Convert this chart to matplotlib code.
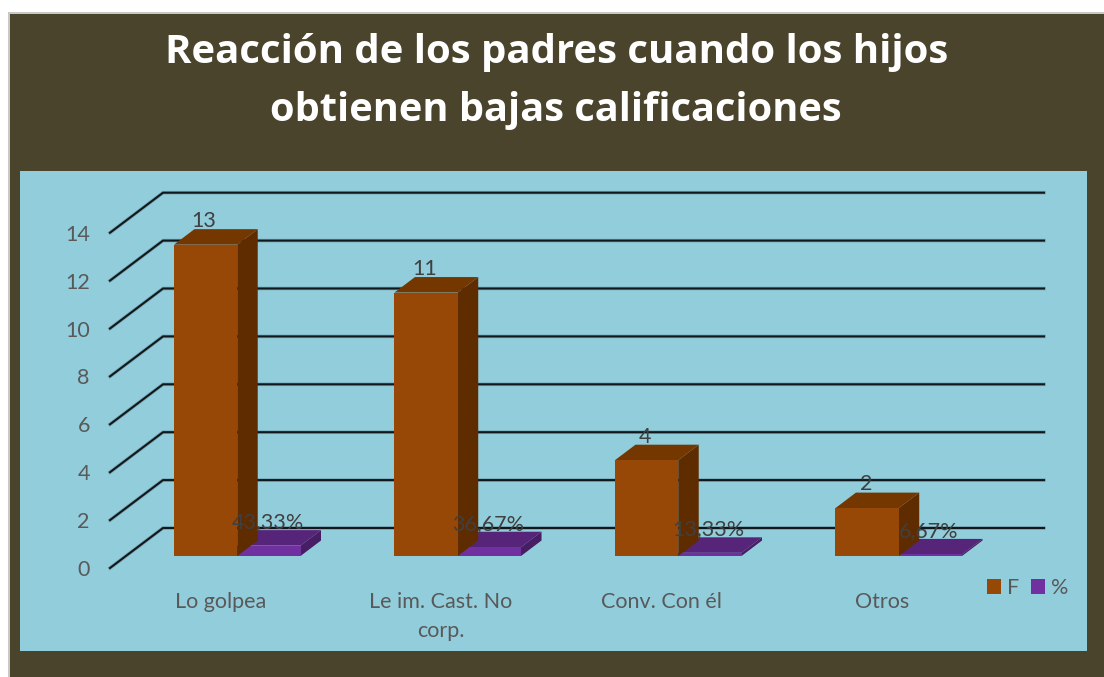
#!/usr/bin/env python3

import matplotlib
matplotlib.use("Agg")
import matplotlib.pyplot as plt
from matplotlib.patches import Polygon, Rectangle, Patch

# -------------------------------------------------------------------------
# Data
# -------------------------------------------------------------------------

categories = ["Lo golpea", "Le im. Cast. No\ncorp.", "Conv. Con él", "Otros"]
freq = [13, 11, 4, 2]
pct = [43.33, 36.67, 13.33, 6.67]
y_ticks = [0, 2, 4, 6, 8, 10, 12, 14]

BG = "#4a442d"
PANEL = "#92cddc"
TEXT = "#595959"
LABEL = "#404040"
F_FRONT, F_TOP, F_SIDE = "#974806", "#743700", "#5f2c00"
P_FRONT, P_TOP, P_SIDE = "#7030a0", "#562478", "#471d63"
FS = 15.5

# pixel layout of the reference
W, H = 1104, 677
CAT_PX = 220.5
UNIT_PX = 23.95
X0_PX, Y0_PX = 110, 568
WALL_DX, WALL_DY = 53 / CAT_PX, 40 / UNIT_PX
BAR_DX, BAR_DY = 20.5 / CAT_PX, 15.5 / UNIT_PX
FLOOR_Y = 12 / UNIT_PX
BAR_LEFT = 0.29
BAR_W = 0.287

fig = plt.figure(figsize=(W / 100, H / 100), dpi=100, facecolor="white")
fig.add_artist(Rectangle((8 / W, 0), 1 - 8 / W, 1 - 12 / H, transform=fig.transFigure,
                         fc="#c8c8c8", ec="none", zorder=-3))
fig.add_artist(Rectangle((9.5 / W, 0), 1 - 9.5 / W, 1 - 13.5 / H, transform=fig.transFigure,
                         fc=BG, ec="none", zorder=-2))
fig.add_artist(Rectangle((20 / W, (H - 651) / H), 1067 / W, 480 / H, transform=fig.transFigure,
                         fc=PANEL, ec="none", zorder=-1))

fig.text(556.5 / W, 1 - 53 / H, "Reacción de los padres cuando los hijos", color="white",
         fontsize=28.9, fontweight="bold", family="Open Sans", ha="center", va="center")
fig.text(556 / W, 1 - 110 / H, "obtienen bajas calificaciones", color="white",
         fontsize=28.6, fontweight="bold", family="Open Sans", ha="center", va="center")

ax = fig.add_axes([X0_PX / W, (H - Y0_PX) / H, 934 / W, 376 / H])
ax.patch.set_alpha(0)
ax.set_xlim(0, 934 / CAT_PX)
ax.set_ylim(0, 376 / UNIT_PX)
for s in ax.spines.values():
    s.set_visible(False)


def draw_bar(x, v, front, top, side, z):
    y0 = FLOOR_Y
    y1 = FLOOR_Y + v
    ax.add_patch(Polygon([(x + BAR_W, y0), (x + BAR_W + BAR_DX, y0 + BAR_DY),
                          (x + BAR_W + BAR_DX, y1 + BAR_DY), (x + BAR_W, y1)],
                         fc=side, ec="none", zorder=z))
    ax.add_patch(Polygon([(x, y1), (x + BAR_W, y1),
                          (x + BAR_W + BAR_DX, y1 + BAR_DY), (x + BAR_DX, y1 + BAR_DY)],
                         fc=top, ec="none", zorder=z))
    ax.add_patch(Rectangle((x, y0), BAR_W, v, fc=front, ec="none", zorder=z))


# walls
for t in y_ticks:
    ax.plot([0, WALL_DX, 934 / CAT_PX], [t, t + WALL_DY, t + WALL_DY], color="#5f7f8a",
            lw=2.6, alpha=0.5, solid_joinstyle="miter", clip_on=False, zorder=1)
    ax.plot([0, WALL_DX, 934 / CAT_PX], [t, t + WALL_DY, t + WALL_DY], color="#10181c",
            lw=1.5, solid_joinstyle="miter", clip_on=False, zorder=1.1)

# bars and labels
for i in range(len(categories)):
    x_f = i + BAR_LEFT
    x_p = x_f + BAR_W
    v_p = pct[i] / 100
    draw_bar(x_p, v_p, P_FRONT, P_TOP, P_SIDE, 2)
    draw_bar(x_f, freq[i], F_FRONT, F_TOP, F_SIDE, 3)

    ax.annotate(str(freq[i]), (x_f + BAR_W / 2, FLOOR_Y + freq[i]), xytext=(-1, 17),
                textcoords="offset points", ha="center", va="center", fontsize=FS,
                color=LABEL, family="Lato", zorder=5)
    ax.annotate(f"{pct[i]:.2f}%".replace(".", ","), (x_p + BAR_W / 2, FLOOR_Y + v_p),
                xytext=(-1, 17), textcoords="offset points", ha="center", va="center",
                fontsize=FS, color=LABEL, family="Lato", zorder=5)

ax.set_yticks(y_ticks)
ax.set_yticklabels([str(t) for t in y_ticks], family="Lato", fontsize=FS, color=TEXT)
ax.set_xticks([i + 0.5 for i in range(len(categories))])
ax.set_xticklabels(categories, family="Lato", fontsize=FS, color=TEXT, linespacing=1.6)
ax.tick_params(axis="y", length=0, pad=14.5)
ax.tick_params(axis="x", length=0, pad=17)

leg = ax.legend(handles=[Patch(fc=F_FRONT, label="F"), Patch(fc=P_FRONT, label="%")],
                ncol=2, frameon=False, loc="center left",
                bbox_to_anchor=((987 - X0_PX) / 934, -(588 - Y0_PX) / 376),
                prop={"family": "Lato", "size": FS}, labelcolor=TEXT,
                handlelength=0.65, handleheight=0.65, handletextpad=0.28,
                columnspacing=0.55, borderpad=0, borderaxespad=0)

plt.savefig("out.png", dpi=100)
